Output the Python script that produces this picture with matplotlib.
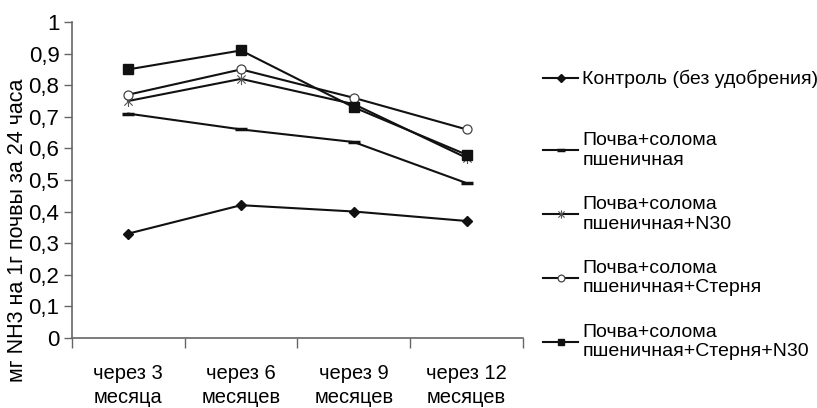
import matplotlib.pyplot as plt
from matplotlib.path import Path
from matplotlib.ticker import FuncFormatter, MultipleLocator, FixedLocator

plt.rcParams['font.family'] = ['Liberation Sans', 'DejaVu Sans']

periods = ["через 3\nмесяца", "через 6\nмесяцев", "через 9\nмесяцев", "через 12\nмесяцев"]

control = [0.33, 0.42, 0.40, 0.37]
straw = [0.71, 0.66, 0.62, 0.49]
straw_n30 = [0.75, 0.82, 0.74, 0.57]
straw_stubble = [0.77, 0.85, 0.76, 0.66]
straw_stubble_n30 = [0.85, 0.91, 0.73, 0.58]

labels = [
    "Контроль (без удобрения)",
    "Почва+солома\nпшеничная",
    "Почва+солома\nпшеничная+N30",
    "Почва+солома\nпшеничная+Стерня",
    "Почва+солома\nпшеничная+Стерня+N30",
]

# asterisk marker: vertical bar crossed by an x
star = Path([(0, -1), (0, 1), (-0.75, -0.75), (0.75, 0.75), (-0.75, 0.75), (0.75, -0.75)],
            [Path.MOVETO, Path.LINETO, Path.MOVETO, Path.LINETO, Path.MOVETO, Path.LINETO])


def comma(v, pos):
    if abs(v) < 1e-9:
        return "0"
    if abs(v - 1) < 1e-9:
        return "1"
    return f"{v:.1f}".replace(".", ",")


fig = plt.figure(figsize=(8.17, 4.08), dpi=100)
ax = fig.add_axes([0.088, 0.172, 0.552, 0.774])

x = list(range(len(periods)))
lc = "#111111"
lw = 1.5

h0, = ax.plot(x, control, color=lc, lw=lw, marker="D", ms=5.5, mfc=lc, mec=lc, label=labels[0])
h1, = ax.plot(x, straw, color=lc, lw=lw, marker="_", ms=8, mew=2.5, mec=lc, label=labels[1])
h2, = ax.plot(x, straw_n30, color=lc, lw=lw, marker=star, ms=8, mew=0.8, mec="#555555", mfc="none", label=labels[2])
h3, = ax.plot(x, straw_stubble, color=lc, lw=lw, marker="o", ms=6.5, mfc="white", mec="#444444", mew=0.9, label=labels[3])
h4, = ax.plot(x, straw_stubble_n30, color=lc, lw=lw, marker="s", ms=6.5, mfc=lc, mec=lc, label=labels[4])

ax.set_xlim(-0.5, 3.5)
ax.set_ylim(0, 1)
ax.yaxis.set_major_locator(MultipleLocator(0.1))
ax.yaxis.set_major_formatter(FuncFormatter(comma))

ax.set_xticks(x)
ax.set_xticklabels(periods, fontsize=14.5, linespacing=1.35)
ax.xaxis.set_minor_locator(FixedLocator([-0.5, 0.5, 1.5, 2.5, 3.5]))
ax.tick_params(axis="x", which="major", length=0, pad=19)
ax.tick_params(axis="x", which="minor", length=7, width=1, color="#666666", direction="out")
ax.tick_params(axis="y", length=6, width=1, color="#666666", labelsize=16, pad=3)

for side in ("top", "right"):
    ax.spines[side].set_visible(False)
for side in ("left", "bottom"):
    ax.spines[side].set_color("#666666")
    ax.spines[side].set_linewidth(1.2)

ax.set_ylabel("мг NH3 на 1г почвы за 24 часа", fontsize=15.5)
ax.yaxis.set_label_coords(-0.098, 0.34)

leg_kw = dict(loc="upper left", frameon=False, fontsize=14, handlelength=1.8,
              handletextpad=0.2, borderpad=0, borderaxespad=0, markerscale=0.75)
fig.legend(handles=[h0], bbox_to_anchor=(0.665, 0.828), **leg_kw)
fig.legend(handles=[h1, h2, h3, h4], bbox_to_anchor=(0.665, 0.676),
           labelspacing=1.4, **leg_kw)

fig.savefig("out.png", dpi=100)
